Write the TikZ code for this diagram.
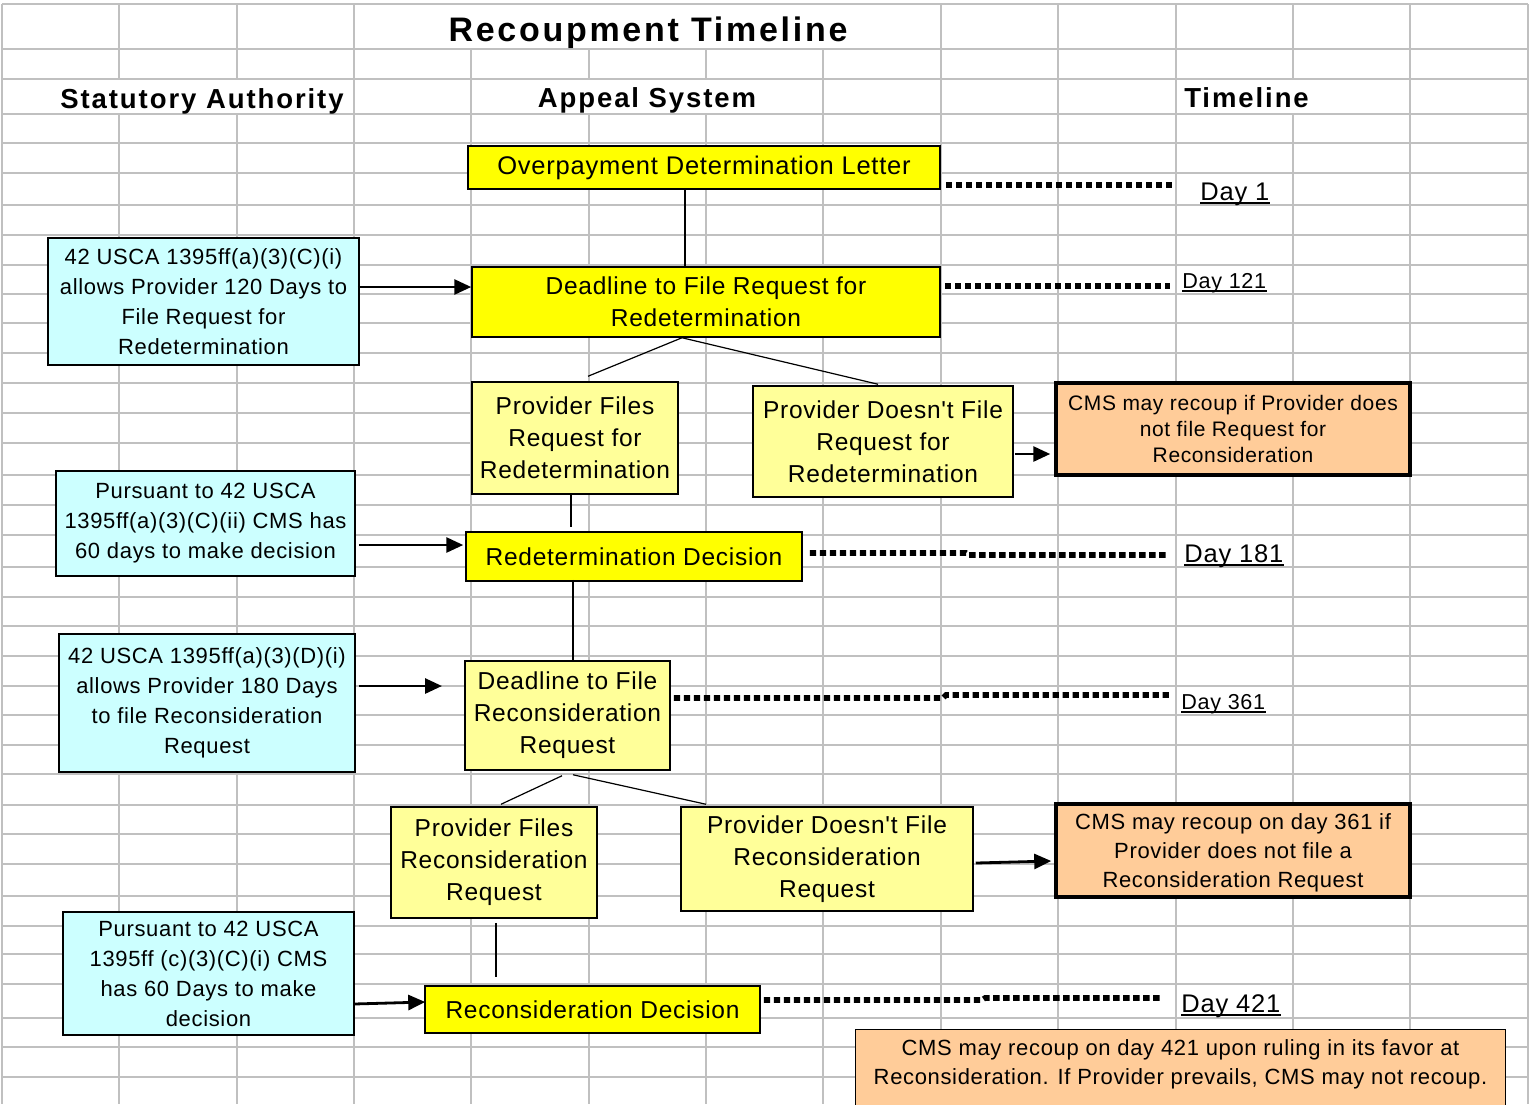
\documentclass[tikz,border=0pt]{standalone}
\usepackage{fontspec}
\setmainfont{Liberation Sans}[LetterSpace=3,Ligatures=TeXOff]
\newfontfamily\headfont{Liberation Sans}[LetterSpace=7]
\newfontfamily\titlefont{Liberation Sans}[LetterSpace=8]
\usetikzlibrary{arrows.meta}
\definecolor{gridc}{HTML}{C0C0C0}
\definecolor{ybright}{HTML}{FFFF00}
\definecolor{ylight}{HTML}{FFFF99}
\definecolor{cyanbox}{HTML}{CCFFFF}
\definecolor{orangebox}{HTML}{FFCC99}
\begin{document}
\begin{tikzpicture}[x=0.5pt,y=-0.5pt,
  gridline/.style={draw=gridc,line width=1pt},
  basebox/.style={draw=black,line width=0.75pt,inner sep=1pt,align=center},
  ybox/.style={basebox,fill=ybright,font=\fontsize{12.25}{16}\selectfont},
  lybox/.style={basebox,fill=ylight,font=\fontsize{12.25}{16}\selectfont},
  cbox/.style={basebox,fill=cyanbox,font=\fontsize{11}{15}\selectfont},
  obox/.style={basebox,fill=orangebox,line width=1.75pt},
  link/.style={line width=0.6pt},
  arr/.style={line width=1.4pt,-{Triangle[length=8.5pt,width=7.5pt]}},
  dots/.style={line width=2.8pt,dash pattern=on 3.2pt off 1.8pt},
  daybig/.style={inner sep=0pt,font=\fontsize{12.75}{15}\selectfont},
  daysmall/.style={inner sep=0pt,font=\fontsize{10.8}{13}\selectfont},
  uline/.style={line width=0.9pt},
  headtext/.style={inner sep=0pt,font=\headfont\bfseries\fontsize{13.75}{16}\selectfont},
  titletext/.style={inner sep=0pt,font=\titlefont\bfseries\fontsize{17}{20}\selectfont}
]
\useasboundingbox (0,0) rectangle (1534,1104);
\fill[white] (0,0) rectangle (1534,1104);

% spreadsheet grid
\foreach \y in {4,49,79,114,143,173,205,235,265,294,323,353,383,413,443,475,505,535,567,597,626,656,686,715,745,774,805,834,864,896,926,954,984,1018,1047,1077}
  \draw[gridline] (2,\y) -- (1527.5,\y);
\foreach \i in {0,3,8,9,10,12,13}
  \draw[gridline] ({2+117.35*\i},4) -- ({2+117.35*\i},1104);
\foreach \i in {1,2,11}{
  \draw[gridline] ({2+117.35*\i},4) -- ({2+117.35*\i},79);
  \draw[gridline] ({2+117.35*\i},114) -- ({2+117.35*\i},1104);}
\foreach \i in {4,7}
  \draw[gridline] ({2+117.35*\i},49) -- ({2+117.35*\i},1104);
\foreach \i in {5,6}{
  \draw[gridline] ({2+117.35*\i},49) -- ({2+117.35*\i},79);
  \draw[gridline] ({2+117.35*\i},114) -- ({2+117.35*\i},1104);}

% title and headers
\node[titletext,anchor=base] (title) at (648,41) {Recoupment Timeline};
\node[headtext,anchor=base] (hstat) at (202,108) {Statutory Authority};
\node[headtext,anchor=base] (happ) at (647,107) {Appeal System};
\node[headtext,anchor=base] (htime) at (1246.5,107) {Timeline};

% appeal system boxes
\node[ybox,minimum width=236pt,minimum height=21.5pt,font=\fontsize{12.75}{16}\selectfont] (A) at (704,167.5) {Overpayment Determination Letter};
\node[ybox,minimum width=234pt,minimum height=35pt] (B) at (706,302) {Deadline to File Request for\\Redetermination};
\node[lybox,minimum width=103pt,minimum height=56pt] (C) at (575,438) {Provider Files\\Request for\\Redetermination};
\node[lybox,minimum width=130pt,minimum height=55.5pt] (D) at (883,441.5) {Provider Doesn't File\\Request for\\Redetermination};
\node[ybox,minimum width=168pt,minimum height=24.5pt] (H) at (634,556.5) {Redetermination Decision};
\node[lybox,minimum width=102.5pt,minimum height=54.5pt] (I) at (567.5,715.5) {Deadline to File\\Reconsideration\\Request};
\node[lybox,minimum width=103pt,minimum height=55.5pt] (J) at (494,862.5) {Provider Files\\Reconsideration\\Request};
\node[lybox,minimum width=146pt,minimum height=52pt] (K) at (827,859) {Provider Doesn't File\\Reconsideration\\Request};
\node[ybox,minimum width=167.5pt,minimum height=23.5pt] (O) at (592.5,1009.5) {Reconsideration Decision};

% statutory authority boxes
\node[cbox,minimum width=155.5pt,minimum height=63.5pt] (E) at (203.5,301.5) {42 USCA 1395ff(a)(3)(C)(i)\\allows Provider 120 Days to\\File Request for\\Redetermination};
\node[cbox,minimum width=149.5pt,minimum height=52.5pt] (F) at (205.5,523.5) {Pursuant to 42 USCA\\1395ff(a)(3)(C)(ii) CMS has\\60 days to make decision};
\node[cbox,minimum width=148pt,minimum height=69pt] (G) at (207,703) {42 USCA 1395ff(a)(3)(D)(i)\\allows Provider 180 Days\\to file Reconsideration\\Request};
\node[cbox,minimum width=145.5pt,minimum height=61.5pt] (N) at (208.5,973.5) {Pursuant to 42 USCA\\1395ff (c)(3)(C)(i) CMS\\has 60 Days to make\\decision};

% recoupment boxes
\node[obox,minimum width=177pt,minimum height=46pt,font=\fontsize{10.5}{13}\selectfont] (M) at (1233,429) {CMS may recoup if Provider does\\not file Request for\\Reconsideration};
\node[obox,minimum width=177pt,minimum height=46.5pt,font=\fontsize{11}{14.5}\selectfont,text depth=-3pt] (L) at (1233,850.5) {CMS may recoup on day 361 if\\Provider does not file a\\Reconsideration Request};
\node[basebox,fill=orangebox,line width=0.6pt,inner xsep=0pt,inner ysep=4.9pt,anchor=north,font=\fontsize{11}{14.5}\selectfont] (P) at (1180.5,1029)
  {\parbox[c][46pt][t]{325pt}{\centering CMS may recoup on day 421 upon ruling in its favor at\\Reconsideration. If Provider prevails, CMS may not recoup.}};

% timeline labels
\node[daybig,anchor=base west] (d1) at (1200,200) {Day 1};
\node[daysmall,anchor=base west] (d121) at (1182,288) {Day 121};
\node[daybig,anchor=base west] (d181) at (1184,562) {Day 181};
\node[daysmall,anchor=base west] (d361) at (1181,709) {Day 361};
\node[daybig,anchor=base west] (d421) at (1181,1012) {Day 421};
\foreach \d in {d1,d121,d181,d361,d421}
  \draw[uline] ([yshift=-1.3pt]\d.base west) -- ([yshift=-1.3pt]\d.base east);

% free ends
\coordinate (t1) at (1172,185);
\coordinate (t121) at (1170,286);
\coordinate (t181) at (1168,555);
\coordinate (t361) at (1170,695);
\coordinate (t421) at (1162,998);
\coordinate (gEnd) at (442,686);

% tree connectors
\draw[link] ([xshift=-9.5pt]A.south) -- ([xshift=-10.5pt]B.north);
\draw[link] ([xshift=-12pt]B.south) -- ([xshift=6.5pt,yshift=2.5pt]C.north);
\draw[link] ([xshift=-12pt]B.south) -- ([xshift=-2.5pt,yshift=0.5pt]D.north);
\draw[link] ([xshift=-2pt]C.south) -- ([xshift=-31.5pt,yshift=2pt]H.north);
\draw[link] ([xshift=-30.5pt,yshift=1pt]H.south) -- ([xshift=2.75pt]I.north);
\draw[link] ([xshift=-2.75pt,yshift=-2.5pt]I.south) -- ([xshift=3.5pt,yshift=1pt]J.north);
\draw[link] ([xshift=2.75pt,yshift=-2pt]I.south) -- ([xshift=-60.5pt,yshift=1pt]K.north);
\draw[link] ([xshift=1pt,yshift=-2pt]J.south) -- ([xshift=-48.25pt,yshift=4pt]O.north);

% arrows
\draw[arr] ([xshift=-1pt,yshift=7.25pt]E.east) -- ([yshift=7.5pt]B.west);
\draw[arr] ([xshift=1.5pt,yshift=-10.75pt]F.east) -- ([xshift=-1pt,yshift=5.75pt]H.west);
\draw[arr] ([xshift=1.5pt,yshift=8.5pt]G.east) -- (gEnd);
\draw[arr] ([xshift=0.5pt,yshift=-6.25pt]D.east) -- ([xshift=-2pt,yshift=-12.5pt]M.west);
\draw[arr] ([xshift=1pt,yshift=-2pt]K.east) -- ([xshift=-1.5pt,yshift=-5.25pt]L.west);
\draw[arr] ([xshift=-0.5pt,yshift=-15.25pt]N.east) -- ([xshift=0.5pt,yshift=3.75pt]O.west);

% dotted timeline leaders
\draw[dots] ([xshift=2.5pt,yshift=-8.75pt]A.east) -- (t1);
\draw[dots] ([xshift=2pt,yshift=8pt]B.east) -- (t121);
\draw[dots] ([xshift=3.5pt,yshift=1.75pt]H.east) -- (966,553) -- (969,555) -- (t181);
\draw[dots] ([xshift=1.5pt,yshift=8.75pt]I.east) -- (943,698) -- (946,695) -- (t361);
\draw[dots] ([xshift=1.5pt,yshift=4.75pt]O.east) -- (982,1000) -- (985,998) -- (t421);
\end{tikzpicture}
\end{document}
